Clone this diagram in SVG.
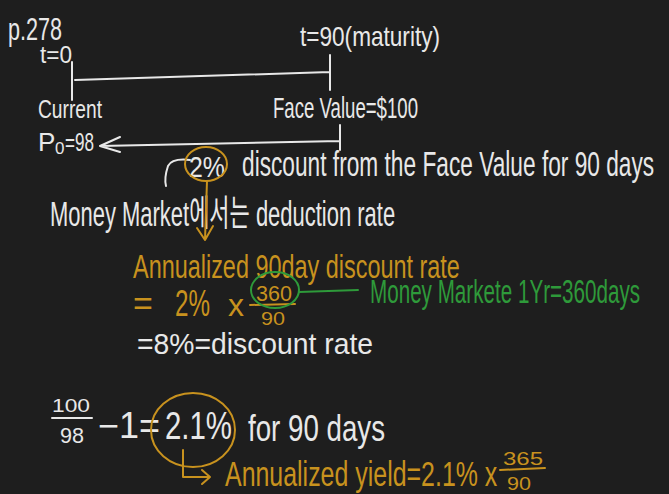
<svg xmlns="http://www.w3.org/2000/svg" width="669" height="494" viewBox="0 0 669 494">
<style>
text{font-family:"Liberation Sans","Noto Sans CJK KR",sans-serif;font-weight:normal}
.w{fill:#e8e8e8}
.o{fill:#c8921e}
.g{fill:#2e9a3a}
.ws{stroke:#e8e8e8;fill:none;stroke-width:2;stroke-linecap:round;stroke-linejoin:round}
.os{stroke:#c8921e;fill:none;stroke-width:2;stroke-linecap:round;stroke-linejoin:round}
.gs{stroke:#2e9a3a;fill:none;stroke-width:2;stroke-linecap:round;stroke-linejoin:round}
</style>
<rect width="669" height="494" fill="#1e1e1e"/>
<g id="timeline">
<text class="w" x="8" y="40" font-size="32" textLength="54" lengthAdjust="spacingAndGlyphs">p.278</text>
<text class="w" x="40" y="63" font-size="24" textLength="32" lengthAdjust="spacingAndGlyphs">t=0</text>
<text class="w" x="300" y="46" font-size="28" textLength="140" lengthAdjust="spacingAndGlyphs">t=90(maturity)</text>
<path class="ws" d="M72 62 L72 100 M75 80 L330 72 M330 55 L330 90"/>
<text class="w" x="38" y="118" font-size="26" textLength="64" lengthAdjust="spacingAndGlyphs">Current</text>
<text class="w" x="38" y="151" font-size="26">P</text>
<text class="w" x="55" y="154" font-size="17">0</text>
<text class="w" x="65" y="151" font-size="26" textLength="29" lengthAdjust="spacingAndGlyphs">=98</text>
<text class="w" x="273" y="118" font-size="30" textLength="145" lengthAdjust="spacingAndGlyphs">Face Value=$100</text>
<path class="ws" d="M120 137 L100 146 L120 152 M100 146 L340 141 M340 125 L340 150"/>
</g>
<g id="discount">
<path class="ws" d="M190 160 Q172 158 168 166 Q164 178 166 186"/>
<text class="w" x="189" y="177" font-size="30" textLength="36" lengthAdjust="spacingAndGlyphs">2%</text>
<ellipse class="os" cx="206" cy="164" rx="21" ry="17"/>
<text class="w" transform="translate(242 176) scale(0.6 1)" x="0" y="0" font-size="36" textLength="687" lengthAdjust="spacingAndGlyphs">discount from the Face Value for 90 days</text>
<text class="w" transform="translate(50 226) scale(0.7 1)" x="0" y="0" font-size="36" textLength="493" lengthAdjust="spacingAndGlyphs">Money Market에서는 deduction rate</text>
<path class="os" d="M207 181 L205 240 M197 228 L205 240 L213 226"/>
</g>
<g id="annualized-discount">
<text class="o" transform="translate(133 278) scale(0.7 1)" x="0" y="0" font-size="34" textLength="467" lengthAdjust="spacingAndGlyphs">Annualized 90day discount rate</text>
<text class="o" x="133" y="315" font-size="34">=</text>
<text class="o" x="175" y="316" font-size="36" textLength="35" lengthAdjust="spacingAndGlyphs">2%</text>
<text class="o" x="228" y="316" font-size="32">x</text>
<text class="o" x="256" y="301" font-size="22" textLength="36" lengthAdjust="spacingAndGlyphs">360</text>
<path class="os" d="M250 305 L295 304"/>
<text class="o" x="261" y="325" font-size="18" textLength="24" lengthAdjust="spacingAndGlyphs">90</text>
<ellipse class="gs" cx="275" cy="290" rx="24" ry="18"/>
<path class="gs" d="M299 292 L358 290"/>
<text class="g" transform="translate(370 303) scale(0.64 1)" x="0" y="0" font-size="34" textLength="422" lengthAdjust="spacingAndGlyphs">Money Markete 1Yr=360days</text>
<text class="w" x="137" y="354" font-size="30" textLength="236" lengthAdjust="spacingAndGlyphs">=8%=discount rate</text>
</g>
<g id="yield">
<text class="w" x="52" y="412" font-size="18" textLength="38" lengthAdjust="spacingAndGlyphs">100</text>
<path class="ws" d="M52 418 L92 418"/>
<text class="w" x="60" y="443" font-size="22" textLength="24" lengthAdjust="spacingAndGlyphs">98</text>
<text class="w" x="98" y="438" font-size="36" textLength="62" lengthAdjust="spacingAndGlyphs">−1=</text>
<text class="w" x="165" y="439" font-size="38" textLength="67" lengthAdjust="spacingAndGlyphs">2.1%</text>
<ellipse class="os" cx="193" cy="430" rx="42" ry="37"/>
<text class="w" x="248" y="441" font-size="36" textLength="137" lengthAdjust="spacingAndGlyphs">for 90 days</text>
<path class="os" d="M183 450 L183 477 L210 477 M202 470 L210 477 L202 484"/>
<text class="o" transform="translate(225 486) scale(0.7 1)" x="0" y="0" font-size="36" textLength="389" lengthAdjust="spacingAndGlyphs">Annualized yield=2.1% x</text>
<text class="o" x="503" y="465" font-size="19" textLength="40" lengthAdjust="spacingAndGlyphs">365</text>
<path class="os" d="M500 470 L545 468"/>
<text class="o" x="507" y="490" font-size="18" textLength="24" lengthAdjust="spacingAndGlyphs">90</text>
</g>
</svg>
